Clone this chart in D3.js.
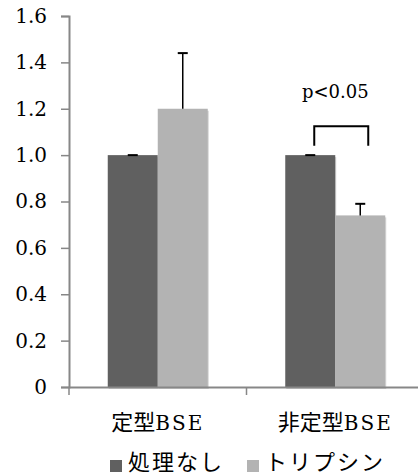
<!DOCTYPE html>
<html>
<head>
<meta charset="utf-8">
<script src="https://cdn.jsdelivr.net/npm/d3@7"></script>
<style>
  body { margin: 0; background: #fff; }
  svg { display: block; }
</style>
</head>
<body>
<div id="chart"></div>
<script>
// data
const categories = ["定型", "非定型"];
const series = ["処理なし", "トリプシン"];
const untreated = [1.0, 1.0];
const trypsin = [1.2, 0.74];
const untreatedErr = [0.0, 0.0];
const trypsinErr = [0.24, 0.05];
const yTicks = [0, 0.2, 0.4, 0.6, 0.8, 1.0, 1.2, 1.4, 1.6];

const width = 418;
const height = 476;
const colors = ["#606060", "#b3b3b3"];
const serif = "DejaVu Serif";
const sans = "Noto Sans CJK JP";

const svg = d3.select("#chart").append("svg")
  .attr("width", width)
  .attr("height", height);

const y = d3.scaleLinear().domain([0, 1.6]).range([387, 16]);
const x0 = d3.scaleBand().domain(categories).range([69, 424]);
const x1 = d3.scaleBand().domain(series).range([x0.bandwidth() / 2 - 50, x0.bandwidth() / 2 + 50]);

const rows = categories.map((c, i) => ({
  cat: c,
  bars: [
    { s: series[0], v: untreated[i], e: untreatedErr[i] },
    { s: series[1], v: trypsin[i], e: trypsinErr[i] }
  ]
}));

// y axis
const yAxis = svg.append("g")
  .attr("transform", "translate(69,0)")
  .call(d3.axisLeft(y).tickValues(yTicks).tickSize(8).tickPadding(14)
    .tickFormat(d => d === 0 ? "0" : d3.format(".1f")(d)));
yAxis.attr("font-family", null).attr("font-size", null);
yAxis.select(".domain").attr("stroke", "#878787").attr("stroke-width", 2);
yAxis.selectAll(".tick line").attr("stroke", "#878787").attr("stroke-width", 1.5);
yAxis.selectAll(".tick text")
  .style("font-family", serif).style("font-size", "20px").attr("fill", "#000");

// groups of bars
const group = svg.append("g").selectAll("g")
  .data(rows)
  .enter().append("g")
  .attr("transform", d => `translate(${x0(d.cat)},0)`);

group.selectAll("rect.shadow")
  .data(d => d.bars)
  .enter().append("rect")
  .attr("class", "shadow")
  .attr("x", d => x1(d.s) + 1)
  .attr("y", d => y(d.v) + 2)
  .attr("width", x1.bandwidth())
  .attr("height", d => y(0) - y(d.v))
  .attr("fill", "#d6d6d6");

group.selectAll("rect.bar")
  .data(d => d.bars)
  .enter().append("rect")
  .attr("class", "bar")
  .attr("x", d => x1(d.s))
  .attr("y", d => y(d.v))
  .attr("width", x1.bandwidth())
  .attr("height", d => y(0) - y(d.v))
  .attr("fill", (d, i) => colors[i]);

// error bars (upper only)
const err = group.selectAll("g.err")
  .data(d => d.bars)
  .enter().append("g")
  .attr("class", "err");
err.append("line")
  .attr("x1", d => x1(d.s) + x1.bandwidth() / 2)
  .attr("x2", d => x1(d.s) + x1.bandwidth() / 2)
  .attr("y1", d => y(d.v))
  .attr("y2", d => y(d.v + d.e))
  .attr("stroke", "#000").attr("stroke-width", 1.5);
err.append("line")
  .attr("x1", d => x1(d.s) + x1.bandwidth() / 2 - 5)
  .attr("x2", d => x1(d.s) + x1.bandwidth() / 2 + 5)
  .attr("y1", d => y(d.v + d.e))
  .attr("y2", d => y(d.v + d.e))
  .attr("stroke", "#000").attr("stroke-width", 2);

// x axis
const xAxis = svg.append("g")
  .attr("transform", `translate(0,${y(0)})`)
  .call(d3.axisBottom(x0).tickValues([]).tickSizeOuter(0));
xAxis.select(".domain").attr("stroke", "#878787").attr("stroke-width", 2);
svg.append("g").selectAll("line")
  .data(categories.concat([null]))
  .enter().append("line")
  .attr("x1", (d, i) => x0.range()[0] + i * x0.step())
  .attr("x2", (d, i) => x0.range()[0] + i * x0.step())
  .attr("y1", y(0))
  .attr("y2", y(0) + 8)
  .attr("stroke", "#878787").attr("stroke-width", 1.5);

// category labels
const lab = svg.append("g").selectAll("text")
  .data(categories)
  .enter().append("text")
  .attr("x", d => x0(d) + x0.bandwidth() / 2)
  .attr("y", 430)
  .attr("text-anchor", "middle")
  .attr("fill", "#000");
lab.append("tspan").style("font-family", sans).style("font-size", "22px").text(d => d);
lab.append("tspan").style("font-family", serif).style("font-size", "20px")
  .attr("letter-spacing", 2).text("BSE");

// significance bracket
const c2 = categories[1];
const bx1 = x0(c2) + x1(series[0]) + x1.bandwidth() / 2 + 4;
const bx2 = x0(c2) + x1(series[1]) + x1.bandwidth() / 2 + 8;
svg.append("path")
  .attr("d", `M${bx1},${y(1.04)}V${y(1.125)}H${bx2}V${y(1.04)}`)
  .attr("fill", "none").attr("stroke", "#000").attr("stroke-width", 2);
svg.append("text")
  .attr("x", x0(c2) + x0.bandwidth() / 2)
  .attr("y", 98)
  .attr("text-anchor", "middle")
  .style("font-family", serif).style("font-size", "18px")
  .text("p<0.05");

// legend
const legendX = [110, 247];
const legend = svg.append("g").selectAll("g")
  .data(series)
  .enter().append("g")
  .attr("transform", (d, i) => `translate(${legendX[i]},460)`);
legend.append("rect")
  .attr("width", 12).attr("height", 12)
  .attr("fill", (d, i) => colors[i]);
legend.append("text")
  .attr("x", 18).attr("y", 10)
  .style("font-family", sans).style("font-size", "22px")
  .attr("letter-spacing", 2)
  .text(d => d);
</script>
</body>
</html>
